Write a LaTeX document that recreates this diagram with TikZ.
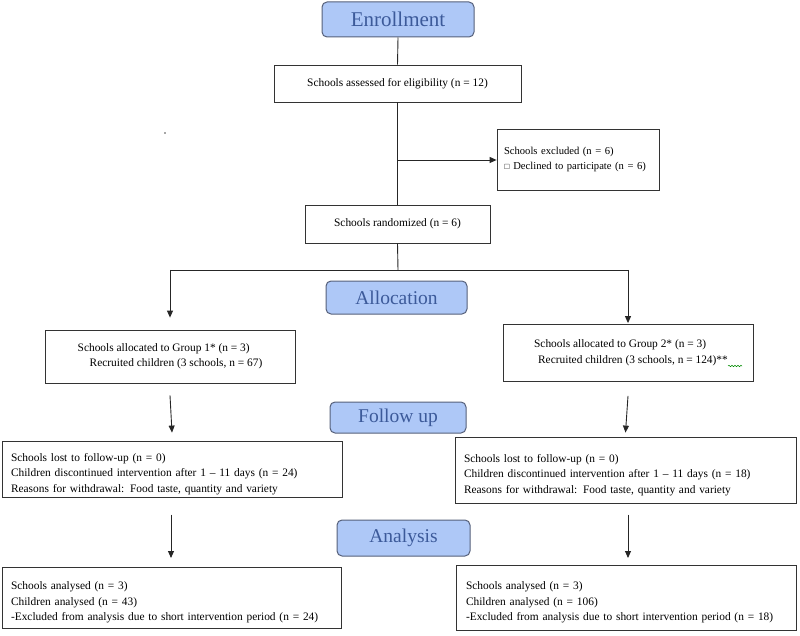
\documentclass[tikz,border=0pt]{standalone}
\usepackage{fontspec}
\usepackage{amssymb}
\setmainfont[Ligatures=TeX]{Liberation Serif}
\usetikzlibrary{arrows.meta,calc,decorations.pathmorphing}
\definecolor{stagefill}{HTML}{AEC8F7}
\definecolor{stageline}{HTML}{56607A}
\definecolor{stagetext}{HTML}{3C5A9A}
\newcommand{\lowstrut}{\rule{0pt}{18pt}}
\begin{document}
\begin{tikzpicture}[x=1pt,y=-1pt,
  stagebox/.style={draw=stageline,line width=1pt,fill=stagefill,rounded corners=5pt,
    text=stagetext,font=\rmfamily\fontsize{19.5}{22}\selectfont,inner sep=0pt},
  plainbox/.style={draw=black!80,line width=0.8pt,fill=white,inner sep=0pt,
    font=\rmfamily\fontsize{11.4}{15.5}\selectfont},
  conn/.style={draw=black!85,line width=0.9pt},
  arr/.style={conn,-{Triangle[length=7pt,width=6pt]}}]
\useasboundingbox (0,0) rectangle (800,636);

% stage labels
\node[stagebox,minimum width=152pt,minimum height=35pt] (enroll) at (398,19.5) {\fontsize{21}{22}\selectfont Enrollment};
\node[stagebox,minimum width=141pt,minimum height=33pt] (alloc) at (396.5,297.5) {Allocation};
\node[stagebox,minimum width=136pt,minimum height=31pt] (follow) at (398,417.5) {Follow up};
\node[stagebox,minimum width=133pt,minimum height=36pt] (analysis) at (403.5,538) {Analysis};

% boxes
\node[plainbox,minimum width=247pt,minimum height=37pt] (elig) at (397.5,83.5)
  {Schools assessed for eligibility (n = 12)};
\node[plainbox,minimum width=162pt,minimum height=61pt,text width=148pt,align=left,inner xsep=7pt,
  font=\rmfamily\fontsize{10.6}{15}\selectfont] (excl) at (578,159.5)
  {Schools excluded (n = 6)\\\raisebox{0.3pt}{\scalebox{0.7}{$\square$}}\ Declined to participate (n = 6)};
\node[plainbox,minimum width=185pt,minimum height=38pt] (rand) at (397.5,224)
  {Schools randomized (n = 6)};
\node[plainbox,minimum width=250pt,minimum height=53pt,align=left] (g1) at (170,356.5)
  {Schools allocated to Group 1* (n = 3)\\\hspace*{12pt}Recruited children (3 schools, n = 67)};
\node[plainbox,minimum width=250pt,minimum height=57pt,align=left] (g2) at (628,353)
  {\hspace*{6pt}Schools allocated to Group 2* (n = 3)\\\hspace*{10pt}Recruited children (3 schools, n = 124)**};
\node[plainbox,minimum width=340pt,minimum height=56pt,text width=322pt,align=left,inner xsep=9pt] (fu1) at (172,469)
  {\lowstrut Schools lost to follow-up (n = 0)\\Children discontinued intervention after 1 – 11 days (n = 24)\\Reasons for withdrawal: Food taste, quantity and variety};
\node[plainbox,minimum width=341pt,minimum height=66pt,text width=323pt,align=left,inner xsep=9pt] (fu2) at (625.5,470)
  {\lowstrut Schools lost to follow-up (n = 0)\\Children discontinued intervention after 1 – 11 days (n = 18)\\Reasons for withdrawal: Food taste, quantity and variety};
\node[plainbox,minimum width=339pt,minimum height=61pt,text width=321pt,align=left,inner xsep=9pt] (an1) at (171.5,597.5)
  {\lowstrut Schools analysed (n = 3)\\Children analysed (n = 43)\\-Excluded from analysis due to short intervention period (n = 24)};
\node[plainbox,minimum width=340pt,minimum height=65pt,text width=320pt,align=left,inner xsep=10pt] (an2) at (626,597.5)
  {\lowstrut Schools analysed (n = 3)\\Children analysed (n = 106)\\-Excluded from analysis due to short intervention period (n = 18)};

% stray dot
\fill[black!70] (165,133) circle (0.8pt);

% connectors
\coordinate (bar) at (398,270);
\coordinate (barL) at (170,270);
\coordinate (barR) at (628,270);
\draw[conn] (enroll.south) -- (elig.north);
\draw[conn] (elig.south) -- (rand.north);
\draw[arr] (398,160) coordinate (exsplit) -- (exsplit -| excl.west);
\draw[conn] (rand.south) -- (bar);
\draw[conn] (barL) -- (barR);
\draw[arr] (barL) -- ($(g1.north)+(0,-12)$);
\draw[arr] (barR) -- ($(g2.north)+(0,-1)$);
\draw[arr] ($(g1.south)+(0,12)$) -- ($(fu1.north)+(0,-8)$);
\draw[arr] ($(g2.south)+(0,14)$) -- ($(fu2.north)+(0,-4)$);
\draw[arr] ($(fu1.north)+(-1,74)$) coordinate (c1) -- (c1 |- 0,558);
\draw[arr] ($(fu2.north)+(2.5,78)$) coordinate (c2) -- (c2 |- 0,558);

% spell-check squiggle
\draw[green!55!black,line width=0.5pt,decorate,decoration={snake,amplitude=0.7pt,segment length=3pt}] (728,366) -- (742,366);
\end{tikzpicture}
\end{document}
